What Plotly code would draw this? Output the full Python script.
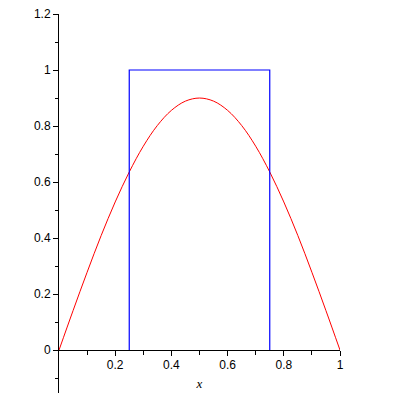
import plotly.graph_objects as go

# red curve samples
curve_x = [0.0, 0.05, 0.1, 0.15, 0.2, 0.25, 0.3, 0.35, 0.4, 0.45, 0.5,
           0.55, 0.6, 0.65, 0.7, 0.75, 0.8, 0.85, 0.9, 0.95, 1.0]
curve_y = [0.0, 0.141, 0.278, 0.409, 0.529, 0.636, 0.728, 0.802, 0.856, 0.889, 0.9,
           0.889, 0.856, 0.802, 0.728, 0.636, 0.529, 0.409, 0.278, 0.141, 0.0]

# blue box outline
box_x = [0.25, 0.25, 0.75, 0.75]
box_y = [0.0, 1.0, 1.0, 0.0]

x_ticks = [0.2, 0.4, 0.6, 0.8, 1.0]
x_labels = ["0.2", "0.4", "0.6", "0.8", "1"]
y_ticks = [0.0, 0.2, 0.4, 0.6, 0.8, 1.0, 1.2]
y_labels = ["0", "0.2", "0.4", "0.6", "0.8", "1", "1.2"]

y_min, y_max = -0.153, 1.2
x_pos = (0 - y_min) / (y_max - y_min)

fig = go.Figure()
fig.add_trace(go.Scatter(x=curve_x, y=curve_y, mode="lines",
                         line=dict(color="#ff0000", width=1, shape="spline"),
                         hoverinfo="skip"))
fig.add_trace(go.Scatter(x=box_x, y=box_y, mode="lines",
                         line=dict(color="#0000ff", width=1.2),
                         hoverinfo="skip"))

tick_font = dict(family="Liberation Sans", size=12, color="black")
# page body has an 8px default margin, so the figure is shifted by 8px
fig.update_layout(
    width=392, height=392,
    margin=dict(l=51, r=60, t=6, b=7, autoexpand=False),
    plot_bgcolor="white", paper_bgcolor="white",
    showlegend=False,
    xaxis=dict(range=[0, 1], anchor="free", position=x_pos, automargin=False,
               showline=True, linecolor="black", linewidth=1,
               showgrid=False, zeroline=False,
               ticks="outside", ticklen=5, tickcolor="black", tickwidth=1,
               tickvals=x_ticks, ticktext=x_labels, tickfont=tick_font,
               ticklabelstandoff=-2, ticklabeloverflow="allow",
               minor=dict(tickvals=[0.1, 0.3, 0.5, 0.7, 0.9], ticks="outside",
                          ticklen=4, tickcolor="black", showgrid=False),
               title=dict(text="<i>x</i>", standoff=8,
                          font=dict(family="Liberation Serif", size=13, color="black"))),
    yaxis=dict(range=[y_min, y_max], automargin=False,
               showline=True, linecolor="black", linewidth=1,
               showgrid=False, zeroline=False,
               ticks="outside", ticklen=5, tickcolor="black", tickwidth=1,
               tickvals=y_ticks, ticktext=y_labels, tickfont=tick_font,
               ticklabeloverflow="allow",
               minor=dict(tickvals=[-0.1, 0.1, 0.3, 0.5, 0.7, 0.9, 1.1], ticks="outside",
                          ticklen=3, tickcolor="black", showgrid=False)),
)

fig.write_html("out.html")
